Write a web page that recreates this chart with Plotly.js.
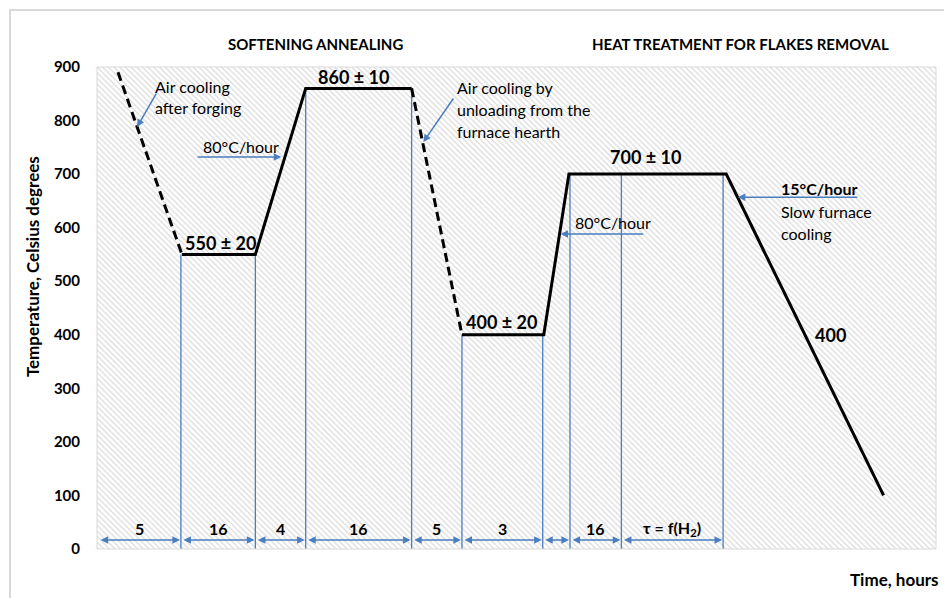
<!DOCTYPE html>
<html>
<head>
<meta charset="utf-8">
<script src="https://cdn.plot.ly/plotly-3.0.1.min.js"></script>
<style>html,body{margin:0;padding:0;background:#fff;}#chart{width:944px;height:598px;}</style>
</head>
<body>
<div id="chart"></div>
<script>
// ---- Data (x in schematic time units, y in °C) ----
var forgeCoolX = [20, 81];
var forgeCoolY = [890, 550];
var annealX = [81, 151, 199, 300];
var annealY = [550, 550, 860, 860];
var unloadCoolX = [300, 348];
var unloadCoolY = [860, 400];
var flakeX = [348, 426, 450, 600, 750];
var flakeY = [400, 400, 700, 700, 100];

// stage boundaries (vertical markers) and their top temperatures
var stageX = [80, 151, 199, 300, 348, 425, 451, 500, 597];
var stageTop = [550, 550, 860, 860, 400, 400, 700, 700, 700];
// duration labels for the intervals between boundaries (first starts at axis origin)
var stageLabels = ['5', '16', '4', '16', '5', '3', '', '16', 'τ = f(H<sub>2</sub>)'];

var yTicks = [0, 100, 200, 300, 400, 500, 600, 700, 800, 900];
var xRange = [0, 800];
var yRange = [0, 900];

var BLUE = '#4a7ebf';
var FONT = 'Lato, "Open Sans", sans-serif';

// hatched background
var bg = {
  x: [xRange[0], xRange[1], xRange[1], xRange[0], xRange[0]],
  y: [yRange[0], yRange[0], yRange[1], yRange[1], yRange[0]],
  mode: 'lines', fill: 'toself', line: {width: 0},
  fillcolor: 'rgba(255,255,255,0)',
  fillpattern: {shape: '\\', fgcolor: '#dadada', bgcolor: '#ffffff', size: 4, solidity: 0.3},
  hoverinfo: 'skip', showlegend: false
};

// vertical blue markers
var vx = [], vy = [];
for (var i = 0; i < stageX.length; i++) {
  vx.push(stageX[i], stageX[i], null);
  vy.push(stageTop[i], -6, null);
}
var markers = {x: vx, y: vy, mode: 'lines', line: {color: BLUE, width: 1.3}, cliponaxis: false, hoverinfo: 'skip', showlegend: false};

function prof(x, y, dash) {
  return {x: x, y: y, mode: 'lines', line: {color: '#000', width: 3, dash: dash}, hoverinfo: 'skip', showlegend: false};
}

var traces = [bg, markers,
  prof(forgeCoolX, forgeCoolY, '9px,5px'),
  prof(annealX, annealY, 'solid'),
  prof(unloadCoolX, unloadCoolY, '9px,5px'),
  prof(flakeX, flakeY, 'solid')];

var ann = [];
function txt(x, y, t, size, bold, anchor, extra) {
  var a = {x: x, y: y, xref: 'x', yref: 'y', text: bold ? '<b>' + t + '</b>' : t, showarrow: false,
    font: {family: FONT, size: size, color: '#000'}, xanchor: anchor || 'center', yanchor: 'middle'};
  if (extra) for (var k in extra) a[k] = extra[k];
  ann.push(a);
}
function arrow(x0, y0, x1, y1, both) {
  ann.push({x: x1, y: y1, ax: x0, ay: y0, xref: 'x', yref: 'y', axref: 'x', ayref: 'y', text: '',
    showarrow: true, arrowhead: 2, arrowsize: 1, arrowwidth: 1.5, arrowcolor: BLUE,
    arrowside: both ? 'end+start' : 'end', startarrowhead: 2, startarrowsize: 1});
}

// duration arrows and labels
var bounds = [xRange[0] + 1].concat(stageX);
for (var j = 0; j < stageLabels.length; j++) {
  var a0 = bounds[j] + 1, a1 = bounds[j + 1] - 1;
  arrow(a0, 17, a1, 17, true);
  if (stageLabels[j]) txt((bounds[j] + bounds[j + 1]) / 2, 39, stageLabels[j], 16, true);
}

// section titles (above plot area, paper coordinates)
function title(x, t) {
  ann.push({xref: 'x', yref: 'paper', x: x, y: 1.0477, text: '<b>' + t + '</b>', showarrow: false,
    font: {family: FONT, size: 15, color: '#000'}, xanchor: 'center', yanchor: 'middle'});
}
title(208, 'SOFTENING ANNEALING');
title(614, 'HEAT TREATMENT FOR FLAKES REMOVAL');

// labels
txt(53, 864, 'Air cooling', 16, false, 'left');
txt(53, 825, 'after forging', 16, false, 'left');
arrow(57.3, 853, 38.2, 788);
txt(137, 752, '80°C/hour', 16, false);
arrow(94.5, 732, 175.7, 732);
txt(117.5, 571, '550 ± 20', 18, true);
txt(244.5, 881, '860 ± 10', 18, true);
txt(341.8, 861, 'Air cooling by', 16, false, 'left');
txt(341.8, 820, 'unloading from the', 16, false, 'left');
txt(341.8, 780, 'furnace hearth', 16, false, 'left');
arrow(340.8, 844, 311.2, 760);
txt(386, 423, '400 ± 20', 18, true);
txt(491.6, 610.5, '80°C/hour', 16, false);
arrow(522.2, 588, 442, 588);
txt(523, 732, '700 ± 10', 18, true);
txt(650, 674, '15°C/hour', 16, true, 'left');
arrow(726.5, 657, 611, 657);
txt(650, 631, 'Slow furnace', 16, false, 'left');
txt(650, 590, 'cooling', 16, false, 'left');
txt(699.5, 400, '400', 18, true);

// axis titles as annotations
ann.push({xref: 'paper', yref: 'y', x: -0.0776, y: 528, text: '<b>Temperature, Celsius degrees</b>', textangle: -90,
  showarrow: false, font: {family: FONT, size: 17, color: '#000'}, xanchor: 'center', yanchor: 'middle'});
ann.push({xref: 'paper', yref: 'paper', x: 1, y: -0.064, xshift: 5, text: '<b>Time, hours</b>',
  showarrow: false, font: {family: FONT, size: 17, color: '#000'}, xanchor: 'right', yanchor: 'middle'});

var layout = {
  width: 944, height: 598,
  margin: {l: 97, r: 8, t: 67, b: 49},
  paper_bgcolor: '#fff', plot_bgcolor: '#fff',
  showlegend: false,
  font: {family: FONT, color: '#000'},
  xaxis: {range: xRange, dtick: 100, tick0: 0, showticklabels: false, ticks: '', showgrid: true,
    gridcolor: '#dcdcdc', gridwidth: 1, zeroline: false, showline: false, fixedrange: true},
  yaxis: {range: yRange, tickvals: yTicks, ticktext: yTicks.map(function (v) { return '<b>' + v + '</b>'; }),
    tickfont: {family: FONT, size: 15, color: '#000'}, ticks: '', ticklen: 0, ticklabelstandoff: 16, showgrid: true,
    gridcolor: '#dcdcdc', gridwidth: 1, zeroline: false, showline: false, fixedrange: true},
  annotations: ann,
  shapes: [
    {type: 'rect', xref: 'paper', yref: 'paper', x0: -0.1037, x1: 1.2, y0: -0.3, y1: 1.118,
      line: {color: '#d9d9d9', width: 2}, fillcolor: 'rgba(0,0,0,0)', layer: 'below'},
    {type: 'rect', xref: 'paper', yref: 'paper', x0: 0, x1: 1, y0: 0, y1: 1,
      line: {color: '#d9d9d9', width: 1}, fillcolor: 'rgba(0,0,0,0)', layer: 'above'}
  ]
};

Plotly.newPlot('chart', traces, layout, {staticPlot: true, displayModeBar: false});
</script>
</body>
</html>
